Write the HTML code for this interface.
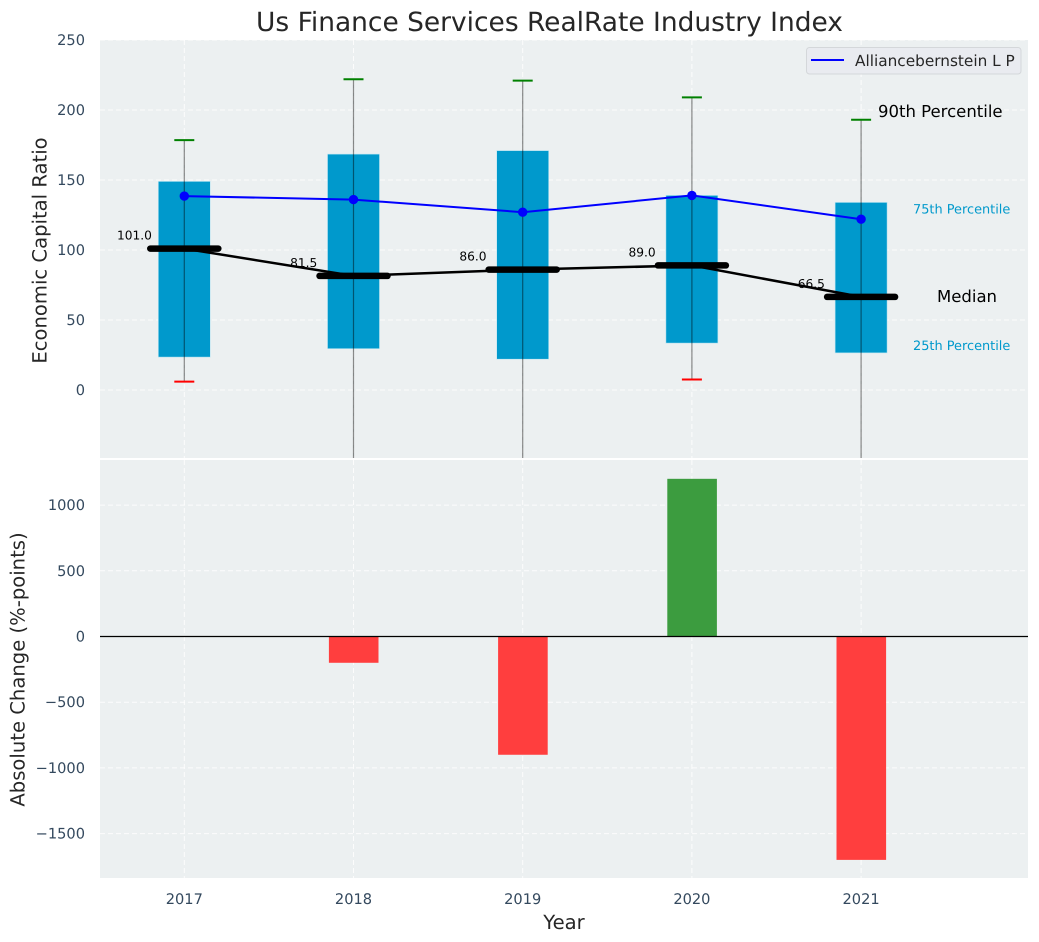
<!DOCTYPE html>
<html lang="en">
<head>
<meta charset="utf-8">
<title>Us Finance Services RealRate Industry Index</title>
<style>
html,body{margin:0;padding:0;background:#fff;width:1039px;height:942px;overflow:hidden}
svg{display:block;font-family:"DejaVu Sans","Liberation Sans",sans-serif;text-rendering:geometricPrecision}
</style>
</head>
<body>
<svg id="chart" width="1039" height="942" viewBox="0 0 1039 942" xmlns="http://www.w3.org/2000/svg">
  <defs>
    <clipPath id="clip-top"><rect x="100" y="40" width="928" height="418"/></clipPath>
    <clipPath id="clip-bottom"><rect x="100" y="460" width="928" height="418"/></clipPath>
  </defs>
  <text x="549.5" y="31" text-anchor="middle" font-size="26.45" fill="#262626">Us Finance Services RealRate Industry Index</text>
  <rect x="100" y="40" width="928" height="418" fill="#ecf0f1"/>
  <rect x="100" y="460" width="928" height="418" fill="#ecf0f1"/>
  <g id="grid"></g>
  <g id="ticks"></g>
  <g id="top-marks" clip-path="url(#clip-top)"></g>
  <g id="top-overlay"></g>
  <g id="bottom-marks" clip-path="url(#clip-bottom)"></g>
  <text transform="translate(46.5,250.5) rotate(-90)" text-anchor="middle" font-size="19.6" fill="#262626">Economic Capital Ratio</text>
  <text transform="translate(24.5,669.5) rotate(-90)" text-anchor="middle" font-size="19.6" fill="#262626">Absolute Change (%-points)</text>
  <text x="564" y="929" text-anchor="middle" font-size="19.6" fill="#262626">Year</text>
  <g>
    <rect x="806.5" y="47.5" width="214.5" height="26.5" rx="3" fill="#e9ebf0" stroke="#d4d7da" stroke-width="1"/>
    <line x1="811" x2="844" y1="60" y2="60" stroke="#0000ff" stroke-width="2"/>
    <text x="855" y="66" font-size="15.3" fill="#262626">Alliancebernstein L P</text>
  </g>
</svg>
<script>
const years = [2017, 2018, 2019, 2020, 2021];
const p10 = [6, -60, -60, 7.5, -60];
const p25 = [23.5, 29.5, 22, 33.5, 26.5];
const p75 = [149, 168.5, 171, 139, 134];
const p90 = [178.5, 222, 221, 209, 193];
const medians = [101.0, 81.5, 86.0, 89.0, 66.5];
const company = [138.5, 136, 127, 139, 122];
const changes = [0, -200, -900, 1200, -1700];
const topTicks = [0, 50, 100, 150, 200, 250];
const bottomTicks = [-1500, -1000, -500, 0, 500, 1000];

const NS = 'http://www.w3.org/2000/svg';
const xS = function (yr) { return 184.3 + (yr - 2017) * 169.2; };
const yTop = function (v) { return 390 - v * 1.4; };
const yBot = function (v) { return 636.5 - v * 0.1314; };

function mk(tag, parent, props, txt) {
  const e = document.createElementNS(NS, tag);
  for (const k in props) e.setAttribute(k, props[k]);
  if (txt !== undefined) e.textContent = txt;
  parent.appendChild(e);
  return e;
}
const grid = document.getElementById('grid');
const ticks = document.getElementById('ticks');
const top_ = document.getElementById('top-marks');
const over = document.getElementById('top-overlay');
const bot = document.getElementById('bottom-marks');
const gridStyle = { stroke: '#ffffff', 'stroke-width': 1, 'stroke-dasharray': '5 3', opacity: 0.85 };
const tickColor = '#34495e';
const tickSize = 14.6;

topTicks.forEach(function (t) {
  const y = yTop(t);
  const g = mk('line', grid, Object.assign({ x1: 100, x2: 1028, y1: y, y2: y }, gridStyle));
  
  
  const l = mk('text', ticks, { x: 85, y: y + 5, 'text-anchor': 'end', 'font-size': tickSize, fill: tickColor }, String(t));
  
  
});
bottomTicks.forEach(function (t) {
  const y = yBot(t);
  const g = mk('line', grid, Object.assign({ x1: 100, x2: 1028, y1: y, y2: y }, gridStyle));
  
  
  const l = mk('text', ticks, { x: 85, y: y + 5, 'text-anchor': 'end', 'font-size': tickSize, fill: tickColor }, String(t).replace('-', '\u2212'));
  
  
});
years.forEach(function (yr) {
  const x = xS(yr);
  const g1 = mk('line', grid, Object.assign({ x1: x, x2: x, y1: 40, y2: 458 }, gridStyle));
  
  
  const g2 = mk('line', grid, Object.assign({ x1: x, x2: x, y1: 460, y2: 878 }, gridStyle));
  
  
  const l = mk('text', ticks, { x: x, y: 904, 'text-anchor': 'middle', 'font-size': tickSize, fill: tickColor }, String(yr));
  
  
});

years.forEach(function (yr, i) {
  const x = xS(yr);
  const box = mk('rect', top_, { x: x - 26, y: yTop(p75[i]), width: 52, height: yTop(p25[i]) - yTop(p75[i]), fill: '#0099cc', stroke: '#bfe6f2', 'stroke-width': 0.6 });
  
  
});
years.forEach(function (yr, i) {
  const x = xS(yr);
  const w = mk('line', top_, { x1: x, x2: x, y1: yTop(p90[i]), y2: yTop(p10[i]), stroke: '#000', 'stroke-opacity': 0.45, 'stroke-width': 1.2 });
  
  
  const hi = mk('line', top_, { x1: x - 10, x2: x + 10, y1: yTop(p90[i]), y2: yTop(p90[i]), stroke: '#008000', 'stroke-width': 2 });
  
  
  const lo = mk('line', top_, { x1: x - 10, x2: x + 10, y1: yTop(p10[i]), y2: yTop(p10[i]), stroke: '#ff0000', 'stroke-width': 2 });
  
  
});

const medianLine = mk('polyline', top_, {
  points: years.map(function (yr, i) { return xS(yr) + ',' + yTop(medians[i]); }).join(' '),
  fill: 'none', stroke: '#000', 'stroke-width': 2.5
});



years.forEach(function (yr, i) {
  const x = xS(yr), y = yTop(medians[i]);
  const lab = mk('text', top_, { x: x - 49.8, y: y - 9, 'text-anchor': 'middle', 'font-size': 12.2, fill: '#000' }, medians[i].toFixed(1));
  
  
  const m = mk('line', top_, { x1: x - 34, x2: x + 34, y1: y, y2: y, stroke: '#000', 'stroke-width': 6.5, 'stroke-linecap': 'round' });
  
  
});

const companyLine = mk('polyline', top_, {
  points: years.map(function (yr, i) { return xS(yr) + ',' + yTop(company[i]); }).join(' '),
  fill: 'none', stroke: '#0000ff', 'stroke-width': 2
});


years.forEach(function (yr, i) {
  const c = mk('circle', top_, { cx: xS(yr), cy: yTop(company[i]), r: 4.7, fill: '#0000ff' });
  
  
});

const last = years.length - 1;
const a90 = mk('text', over, { x: 878, y: yTop(p90[last]) - 3, 'font-size': 16.5, fill: '#000' }, '90th Percentile');


const a75 = mk('text', over, { x: 913, y: yTop(p75[last]) + 11, 'font-size': 12.9, fill: '#0099cc' }, '75th Percentile');


const aMed = mk('text', over, { x: 937, y: yTop(medians[last]) + 5, 'font-size': 16.5, fill: '#000' }, 'Median');


const a25 = mk('text', over, { x: 913, y: yTop(p25[last]) - 3, 'font-size': 12.9, fill: '#0099cc' }, '25th Percentile');



years.forEach(function (yr, i) {
  const v = changes[i];
  if (v === 0) return;
  const x = xS(yr);
  const y0 = Math.min(yBot(v), yBot(0));
  const b = mk('rect', bot, { x: x - 24.6, y: y0, width: 49.6, height: Math.abs(yBot(v) - yBot(0)), fill: v > 0 ? '#3c9c3f' : '#ff3e3e' });
  
  
});
const zero = mk('line', bot, { x1: 100, x2: 1028, y1: yBot(0), y2: yBot(0), stroke: '#000', 'stroke-width': 1.2 });


</script>
</body>
</html>
